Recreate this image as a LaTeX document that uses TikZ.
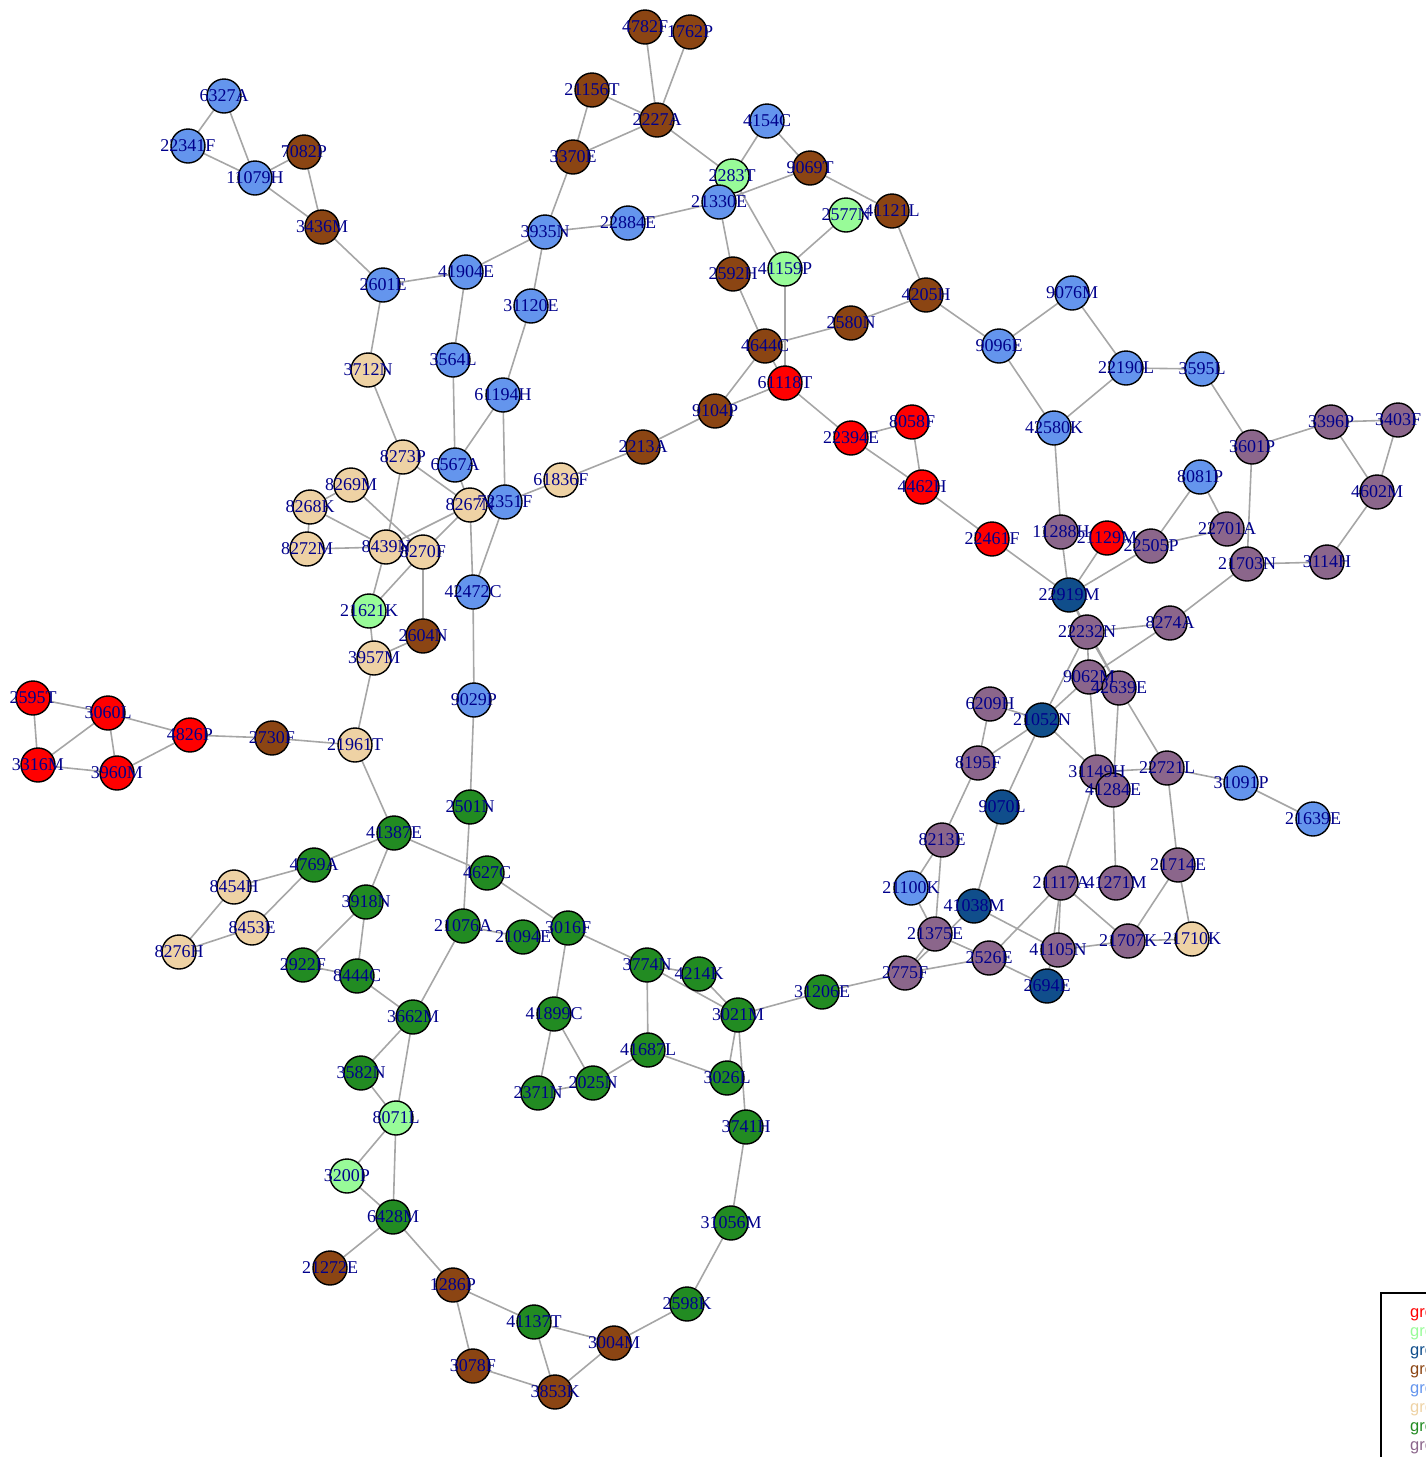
\documentclass[tikz,border=0pt]{standalone}
\usepackage{fontspec}
\setmainfont{Liberation Serif}
\newfontfamily\legendfont{Liberation Sans}
\usetikzlibrary{backgrounds}

\definecolor{cR}{HTML}{FF0000}
\definecolor{cLG}{HTML}{98FB98}
\definecolor{cDB}{HTML}{104E8B}
\definecolor{cBR}{HTML}{8B4513}
\definecolor{cBL}{HTML}{6495ED}
\definecolor{cWH}{HTML}{EED2A4}
\definecolor{cGR}{HTML}{228B22}
\definecolor{cPU}{HTML}{8B668B}
\definecolor{labelblue}{HTML}{00008B}
\definecolor{edgegray}{HTML}{A6A6A6}

\pgfdeclarelayer{labels}
\pgfsetlayers{background,main,labels}

\tikzset{
  vertex/.style={circle, draw=black, line width=1.4pt, minimum size=34pt, inner sep=0pt},
  vlabel/.style={text=labelblue, font=\fontsize{18}{18}\selectfont, inner sep=0pt},
  edge/.style={draw=edgegray, line width=1.6pt},
  legtext/.style={anchor=west, inner sep=0pt, font=\legendfont\fontsize{16.5}{16.5}\selectfont}
}

\begin{document}
\begin{tikzpicture}[x=1pt,y=-1pt]
  \useasboundingbox (0,0) rectangle (1425,1457);

  % vertices: name/x/y/group colour
  \foreach \n/\x/\y/\col in {
      2595T/33/698/cR, 3060L/108/713/cR, 3316M/38/765/cR, 3960M/117/773/cR, 4826P/190/735/cR,
      61118T/785/383/cR, 22394E/851/438/cR, 8058F/912/422/cR, 4462H/922/487/cR, 22461F/992/539/cR,
      21129M/1107/538/cR,
      2283T/732/176/cLG, 2577N/846/215/cLG, 41159P/785/269/cLG, 21621K/369/611/cLG, 8071L/396/1118/cLG,
      3200P/347/1176/cLG,
      22919M/1069/595/cDB, 21052N/1042/720/cDB, 9070L/1002/807/cDB, 41038M/974/906/cDB, 2694E/1047/986/cDB,
      4782F/645/27/cBR, 1762P/690/32/cBR, 21156T/592/90/cBR, 2227A/657/120/cBR, 3370E/573/157/cBR,
      7082P/304/152/cBR, 3436M/322/227/cBR, 9069T/810/168/cBR, 41121L/892/211/cBR, 2592H/733/274/cBR,
      4205H/926/295/cBR, 2580N/851/323/cBR, 4644C/765/346/cBR, 9104P/715/411/cBR, 2213A/643/447/cBR,
      2604N/423/636/cBR, 2730F/272/738/cBR, 21272E/330/1268/cBR, 1286P/453/1285/cBR, 3078F/473/1366/cBR,
      3004M/614/1343/cBR, 3853K/555/1392/cBR,
      6327A/224/96/cBL, 22341F/188/146/cBL, 11079H/255/178/cBL, 2601E/383/285/cBL, 41904E/466/272/cBL,
      3935N/545/232/cBL, 22884E/628/223/cBL, 4154C/767/121/cBL, 21330E/719/202/cBL, 31120E/531/306/cBL,
      3564L/453/360/cBL, 61194H/503/395/cBL, 6567A/455/465/cBL, 72351F/505/502/cBL, 42472C/473/592/cBL,
      9029P/474/700/cBL, 9076M/1072/293/cBL, 9096E/999/346/cBL, 22190L/1126/368/cBL, 3595L/1202/369/cBL,
      42580K/1054/428/cBL, 8081P/1200/477/cBL, 31091P/1241/783/cBL, 21639E/1313/819/cBL, 21100K/911/888/cBL,
      3712N/368/370/cWH, 8273P/403/457/cWH, 8269M/351/485/cWH, 8268K/310/507/cWH, 8267N/470/505/cWH,
      8272M/307/549/cWH, 8439N/386/547/cWH, 8270F/423/552/cWH, 3957M/374/658/cWH, 21961T/355/745/cWH,
      61836F/561/480/cWH, 8454H/234/887/cWH, 8453E/252/928/cWH, 8276H/179/952/cWH, 21710K/1192/939/cWH,
      2501N/470/807/cGR, 41387E/394/833/cGR, 4769A/314/865/cGR, 4627C/487/873/cGR, 3918N/366/902/cGR,
      21076A/463/926/cGR, 21094E/523/937/cGR, 3016F/568/928/cGR, 3774N/647/965/cGR, 4214K/699/974/cGR,
      2922F/303/965/cGR, 8444C/357/976/cGR, 3662M/413/1017/cGR, 3021M/738/1015/cGR, 31206E/822/992/cGR,
      41899C/554/1014/cGR, 41687L/648/1050/cGR, 3026L/727/1078/cGR, 2025N/593/1083/cGR, 2371N/538/1093/cGR,
      3582N/361/1073/cGR, 3741H/746/1127/cGR, 6428M/393/1217/cGR, 31056M/731/1223/cGR, 2598K/687/1304/cGR,
      41137T/534/1322/cGR,
      3601P/1252/447/cPU, 3396P/1331/422/cPU, 3403F/1398/420/cPU, 4602M/1377/492/cPU, 22701A/1227/529/cPU,
      11288H/1061/532/cPU, 22505P/1151/546/cPU, 21703N/1247/564/cPU, 3114H/1327/562/cPU, 22232N/1087/632/cPU,
      8274A/1170/623/cPU, 9062M/1089/677/cPU, 42639E/1119/688/cPU, 6209H/990/704/cPU, 8195F/978/763/cPU,
      31149H/1097/772/cPU, 41284E/1113/790/cPU, 22721L/1167/768/cPU, 8213E/942/840/cPU, 21714E/1178/865/cPU,
      21117A/1061/883/cPU, 41271M/1116/883/cPU, 21707K/1128/941/cPU, 41105N/1058/950/cPU, 2526E/989/958/cPU,
      21375E/935/934/cPU, 2775F/905/973/cPU}
    {
      \node[vertex, fill=\col] (v\n) at (\x,\y) {};
      \begin{pgfonlayer}{labels}
        \node[vlabel] at (\x,\y) {\n};
      \end{pgfonlayer}
    }

  % edges
  \begin{pgfonlayer}{background}
    \foreach \a/\b in {
        6327A/22341F, 6327A/11079H, 22341F/11079H, 11079H/7082P, 11079H/3436M, 7082P/3436M,
        3436M/2601E, 2601E/41904E, 2601E/3712N, 41904E/3564L, 41904E/3935N,
        4782F/2227A, 1762P/2227A, 21156T/2227A, 21156T/3370E, 3370E/2227A, 2227A/2283T,
        3370E/3935N, 4154C/2283T, 4154C/9069T, 9069T/21330E, 9069T/41121L, 3935N/22884E,
        22884E/21330E, 3935N/31120E, 21330E/2592H, 2283T/41159P, 2577N/41159P, 41121L/4205H,
        4205H/2580N, 2580N/4644C, 2592H/4644C, 41159P/61118T, 4644C/9104P, 4644C/61118T,
        4205H/9096E, 9096E/9076M, 9076M/22190L, 9096E/42580K, 22190L/3595L, 22190L/42580K,
        3595L/3601P, 3601P/3396P, 3396P/3403F, 3396P/4602M, 3403F/4602M, 4602M/3114H,
        3114H/21703N, 3601P/21703N, 8081P/22505P, 8081P/22701A, 22701A/22505P,
        42580K/11288H, 11288H/22919M, 21129M/22919M, 22505P/22919M, 22461F/22919M,
        4462H/22461F, 21703N/8274A, 22919M/22232N, 22919M/42639E, 22232N/8274A, 8274A/9062M,
        22232N/21052N, 9062M/21052N, 22232N/42639E, 22232N/9062M, 6209H/21052N, 6209H/8195F,
        21052N/8195F, 21052N/9070L, 21052N/31149H, 9062M/31149H, 42639E/41284E, 42639E/22721L,
        8195F/8213E, 9070L/41038M, 31149H/22721L, 22721L/31091P, 31091P/21639E, 31149H/21117A,
        41284E/41271M, 22721L/21714E, 21714E/21707K, 21714E/21710K, 21117A/21707K,
        21117A/41105N, 21117A/2694E, 21117A/2526E, 41038M/41105N, 41105N/21707K,
        21707K/21710K, 2526E/2694E, 2526E/21375E, 2526E/2775F, 2775F/21375E, 2775F/41038M,
        21375E/21100K, 21100K/8213E, 8213E/21375E, 31206E/2775F,
        61118T/22394E, 22394E/8058F, 22394E/4462H, 8058F/4462H, 9104P/61118T, 2213A/9104P,
        61836F/2213A, 72351F/61836F,
        61194H/72351F, 61194H/6567A, 61194H/31120E, 3564L/6567A, 72351F/42472C,
        42472C/9029P, 9029P/2501N,
        3712N/8273P, 8273P/8439N, 8273P/8267N, 6567A/8267N, 8269M/8268K, 8269M/8270F,
        8268K/8439N, 8268K/8272M, 8272M/8439N, 8439N/8267N, 8270F/8267N, 8439N/21621K,
        8270F/21621K, 8270F/2604N, 21621K/3957M, 2604N/3957M, 3957M/21961T, 8267N/42472C,
        2595T/3060L, 2595T/3316M, 3060L/3316M, 3060L/3960M, 3316M/3960M, 3960M/4826P,
        3060L/4826P, 4826P/2730F, 2730F/21961T,
        21961T/41387E, 41387E/4769A, 41387E/4627C, 41387E/3918N, 4769A/8454H, 4769A/8453E,
        8454H/8276H, 8453E/8276H, 3918N/2922F, 3918N/8444C, 2922F/8444C, 8444C/3662M,
        3662M/21076A, 3662M/3582N, 3662M/8071L, 2501N/21076A, 4627C/3016F, 21076A/21094E,
        3016F/3774N, 3016F/41899C, 3774N/4214K, 3774N/3021M, 4214K/3021M, 3774N/41687L,
        3021M/31206E, 3021M/3026L, 3021M/3741H, 41899C/2371N, 41899C/2025N, 2025N/41687L,
        41687L/3026L, 2371N/2025N, 3582N/8071L, 8071L/3200P, 8071L/6428M, 3200P/6428M,
        6428M/21272E, 6428M/1286P, 1286P/41137T, 1286P/3078F, 3078F/3853K, 41137T/3853K,
        41137T/3004M, 3004M/3853K, 3004M/2598K, 2598K/31056M, 31056M/3741H}
      \draw[edge] (v\a.center) -- (v\b.center);
  \end{pgfonlayer}

  % legend (cut off by the page edge)
  \draw[line width=1.5pt] (1381,1293) rectangle (1445,1470);
  \foreach \col [count=\i] in {cR,cLG,cDB,cBR,cBL,cWH,cGR,cPU}
    \node[legtext, text=\col] at (1410, {1294 + 19.1*\i}) {group\i};
\end{tikzpicture}
\end{document}
